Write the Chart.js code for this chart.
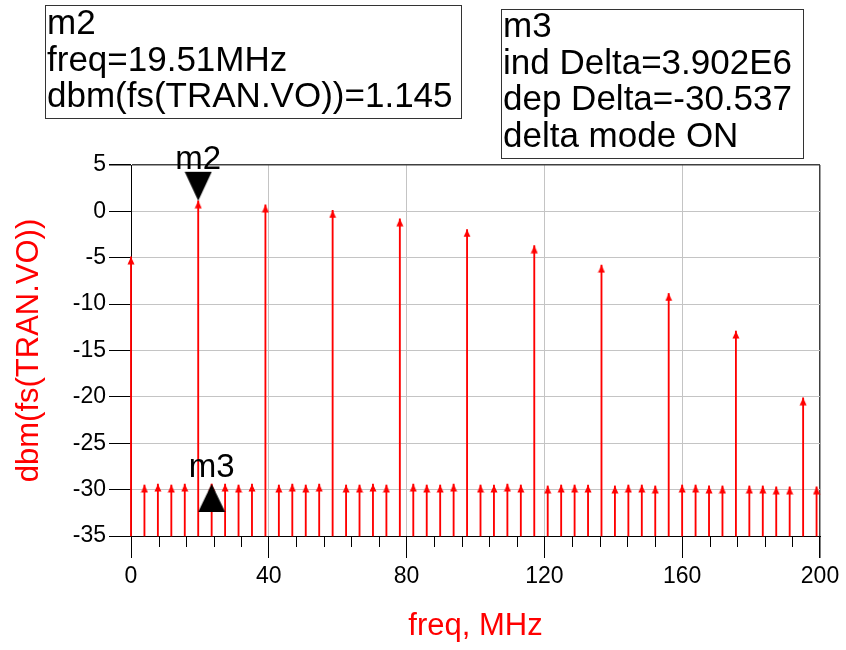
<!DOCTYPE html>
<html>
<head>
<meta charset="utf-8">
<title>dbm(fs(TRAN.VO))</title>
<script src="https://cdn.jsdelivr.net/npm/chart.js@4.4.1/dist/chart.umd.min.js"></script>
<style>
  html, body { margin: 0; padding: 0; background: #fff; }
  #wrap { position: relative; width: 846px; height: 650px; }
  .mbox {
    position: absolute;
    box-sizing: border-box;
    border: 1.5px solid #333;
    background: #fff;
    font-family: "Liberation Sans", Arial, sans-serif;
    font-size: 35px;
    line-height: 36.7px;
    color: #000;
    padding-left: 1px;
    white-space: nowrap;
    overflow: visible;
  }
  .mbox .txt { position: relative; }
</style>
</head>
<body>
<div id="wrap">
  <canvas id="spectrumChart"></canvas>
  <div class="mbox" style="left:45px; top:5px; width:417px; height:114px;">
    <div class="txt" style="top:-2px;">m2<br>freq=19.51MHz<br>dbm(fs(TRAN.VO))=1.145</div>
  </div>
  <div class="mbox" style="left:501px; top:9px; width:303px; height:150px;">
    <div class="txt" style="top:-3px;">m3<br>ind Delta=3.902E6<br>dep Delta=-30.537<br>delta mode ON</div>
  </div>
</div>

<script>
// Harmonics of the 19.51 MHz fundamental (MHz, dBm)
const harmonicFreq  = [0, 19.51, 39.02, 58.53, 78.04, 97.55, 117.06, 136.57, 156.08, 175.59, 195.10];
const harmonicLevel = [-4.9, 1.145, 0.7, 0.1, -0.8, -1.95, -3.7, -5.8, -8.85, -12.9, -20.1];

// Spurs on the 3.902 MHz grid between the harmonics
const spurFreq = [
  3.902, 7.804, 11.706, 15.608,
  23.412, 27.314, 31.216, 35.118,
  42.922, 46.824, 50.726, 54.628,
  62.432, 66.334, 70.236, 74.138,
  81.942, 85.844, 89.746, 93.648,
  101.452, 105.354, 109.256, 113.158,
  120.962, 124.864, 128.766, 132.668,
  140.472, 144.374, 148.276, 152.178,
  159.982, 163.884, 167.786, 171.688,
  179.492, 183.394, 187.296, 191.198,
  199.002
];
const spurLevel = [
  -29.5, -29.4, -29.5, -29.4,
  -29.392, -29.4, -29.5, -29.4,
  -29.5, -29.4, -29.5, -29.4,
  -29.5, -29.5, -29.4, -29.5,
  -29.4, -29.5, -29.5, -29.4,
  -29.5, -29.5, -29.4, -29.5,
  -29.6, -29.5, -29.5, -29.5,
  -29.6, -29.5, -29.5, -29.6,
  -29.5, -29.5, -29.6, -29.6,
  -29.6, -29.6, -29.7, -29.7,
  -29.7
];

// markers
const m2Freq = 19.51, m2Level = 1.145;
const m3Freq = 23.412, m3Level = -29.392;

const FLOOR = -35;
const RED = '#ff0000';
const FONT = '"Liberation Sans", Arial, sans-serif';

const tones = harmonicFreq.map((f, i) => ({ x: f, y: harmonicLevel[i] }))
  .concat(spurFreq.map((f, i) => ({ x: f, y: spurLevel[i] })));

// arrow head, tip sits at the image centre
function makeHead() {
  const c = document.createElement('canvas');
  c.width = 8; c.height = 16;
  const g = c.getContext('2d');
  g.fillStyle = RED;
  g.beginPath();
  g.moveTo(4, 8);
  g.lineTo(7.5, 15.5);
  g.lineTo(0.5, 15.5);
  g.closePath();
  g.fill();
  return c;
}

// marker triangle, tip at the image centre
function makeMarker(down) {
  const c = document.createElement('canvas');
  c.width = 28; c.height = 60;
  const g = c.getContext('2d');
  g.fillStyle = '#000';
  g.beginPath();
  if (down) { g.moveTo(0.5, 1); g.lineTo(27.5, 1); g.lineTo(14, 30); }
  else { g.moveTo(14, 30); g.lineTo(27.5, 58); g.lineTo(0.5, 58); }
  g.closePath();
  g.fill();
  return c;
}

const markerLabels = {
  id: 'markerLabels',
  afterDatasetsDraw(chart) {
    const ctx = chart.ctx;
    ctx.save();
    ctx.font = '33px ' + FONT;
    ctx.fillStyle = '#000';
    ctx.textAlign = 'center';
    ctx.textBaseline = 'alphabetic';
    const p2 = chart.getDatasetMeta(0).data[0];
    ctx.fillText('m2', p2.x, p2.y - 32);
    const p3 = chart.getDatasetMeta(1).data[0];
    ctx.fillText('m3', p3.x, p3.y - 7);
    ctx.restore();
  }
};

// short ticks every 8 MHz between the labelled ones
const minorTicks = {
  id: 'minorTicks',
  afterDraw(chart) {
    const sx = chart.scales.x;
    const ctx = chart.ctx;
    const y0 = chart.chartArea.bottom;
    ctx.save();
    ctx.strokeStyle = '#000';
    ctx.lineWidth = 1;
    for (let v = 8; v < 200; v += 8) {
      if (v % 40 === 0) continue;
      const px = Math.round(sx.getPixelForValue(v)) + 0.5;
      ctx.beginPath();
      ctx.moveTo(px, y0);
      ctx.lineTo(px, y0 + 11);
      ctx.stroke();
    }
    ctx.restore();
  }
};

const ctx = document.getElementById('spectrumChart');
new Chart(ctx, {
  type: 'bar',
  data: {
    datasets: [
      {
        type: 'scatter',
        data: [{ x: m2Freq, y: m2Level }],
        pointStyle: makeMarker(true),
        pointRadius: 10,
        order: 0,
        clip: false
      },
      {
        type: 'scatter',
        data: [{ x: m3Freq, y: m3Level }],
        pointStyle: makeMarker(false),
        pointRadius: 10,
        order: 0,
        clip: false
      },
      {
        type: 'scatter',
        data: tones,
        pointStyle: makeHead(),
        pointRadius: 4,
        order: 1,
        clip: false
      },
      {
        type: 'bar',
        data: tones.map(p => ({ x: p.x, y: [FLOOR, p.y] })),
        backgroundColor: RED,
        borderWidth: 0,
        barThickness: 1.2,
        order: 2,
        clip: false
      }
    ]
  },
  options: {
    responsive: true,
    maintainAspectRatio: false,
    animation: false,
    events: [],
    layout: { padding: { left: 0, right: 26, top: 165, bottom: 0 } },
    plugins: {
      legend: { display: false },
      tooltip: { enabled: false }
    },
    scales: {
      x: {
        type: 'linear',
        min: 0,
        max: 200,
        offset: false,
        afterFit(scale) { scale.height = 114; },
        ticks: {
          stepSize: 40,
          maxRotation: 0,
          padding: 5,
          color: '#000',
          font: { family: FONT, size: 23 }
        },
        grid: {
          offset: false,
          color: c => (c.tick && c.tick.value === 200) ? '#404040' : '#c4c4c4',
          lineWidth: c => (c.tick && c.tick.value === 200) ? 1.5 : 1,
          tickColor: '#000',
          tickLength: 22
        },
        border: { color: '#000', width: 1 },
        title: {
          display: true,
          text: 'freq, MHz',
          color: RED,
          font: { family: FONT, size: 31 },
          padding: { top: 0, bottom: 5 }
        }
      },
      y: {
        min: -35,
        max: 5,
        afterFit(scale) { scale.width = 131; },
        ticks: {
          stepSize: 5,
          padding: 3,
          color: '#000',
          font: { family: FONT, size: 23 }
        },
        grid: {
          color: c => (c.tick && c.tick.value === 5) ? '#404040' : '#c4c4c4',
          lineWidth: c => (c.tick && c.tick.value === 5) ? 1.5 : 1,
          tickColor: '#000',
          tickLength: 22
        },
        border: { color: '#000', width: 1 },
        title: {
          display: true,
          text: 'dbm(fs(TRAN.VO))',
          color: RED,
          font: { family: FONT, size: 31 },
          padding: { top: 11, bottom: 0 }
        }
      }
    }
  },
  plugins: [markerLabels, minorTicks]
});
</script>
</body>
</html>
